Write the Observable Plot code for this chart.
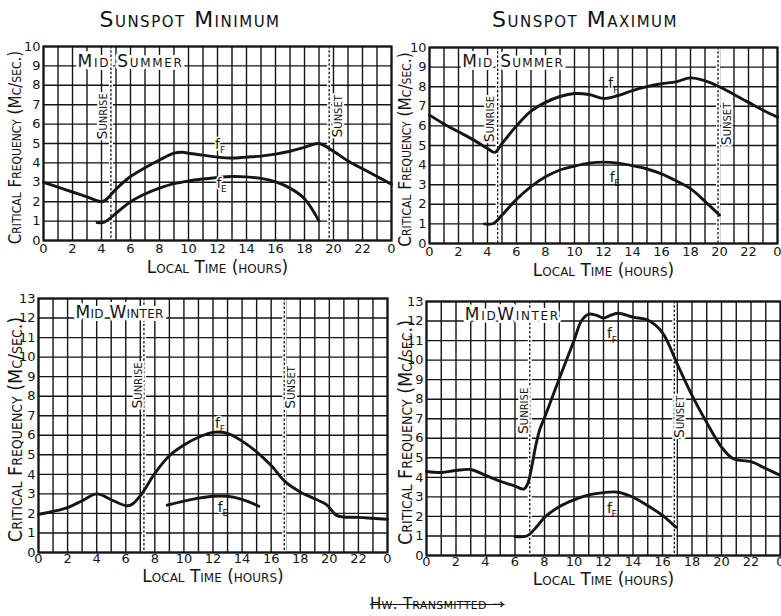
<!DOCTYPE html>
<html><head><meta charset="utf-8">
<script src="https://cdn.jsdelivr.net/npm/d3@7"></script>
<script src="https://cdn.jsdelivr.net/npm/@observablehq/plot@0.6"></script>
<style>
body{margin:0;background:#fff}
#wrap{position:relative;width:781px;height:616px;overflow:hidden;background:#fff;font-family:"DejaVu Sans",sans-serif;color:#111}
.panel{position:absolute}
.panel svg{overflow:visible;background:transparent}
.title{position:absolute;top:7px;font-size:22px;font-variant:small-caps;letter-spacing:1.5px;white-space:nowrap;transform:translateX(-50%)}
.caption{position:absolute;left:370px;top:595px;font-size:15px;font-variant:small-caps;white-space:nowrap;text-decoration:line-through;letter-spacing:0.3px}
</style>
</head><body>
<div id="wrap"></div>
<script>
// ---- data ----
const hourTicks = [0,2,4,6,8,10,12,14,16,18,20,22,24];
const hourTickLabels = ["0","2","4","6","8","10","12","14","16","18","20","22","0"];
const panelTitles = ["Sunspot Minimum","Sunspot Maximum"];
const seasonLabels = ["Mid Summer","Mid Summer","Mid Winter","MidWinter"];
const xTitle = "Local Time (hours)";
const yTitle = "Critical Frequency (Mc/sec.)";
const captionText = "Hw. Transmitted";

// [hour, Mc/sec]
const minSummerF = [[0,3.0],[1,2.75],[2,2.5],[3,2.25],[4,2.0],[4.3,2.1],[5,2.65],[6,3.3],[7,3.75],[8,4.15],[9,4.5],[9.6,4.55],[10,4.5],[11,4.4],[12,4.3],[13,4.25],[14,4.3],[15,4.35],[16,4.45],[17,4.6],[18,4.8],[19,5.0],[20,4.6],[21,4.1],[22,3.7],[23,3.3],[24,2.9]];
const minSummerE = [[3.7,0.92],[4.2,0.95],[5,1.4],[6,2.0],[7,2.4],[8,2.7],[9,2.93],[10,3.07],[11,3.17],[12,3.25],[13,3.3],[14,3.28],[15,3.2],[16,3.02],[17,2.7],[18,2.15],[19,1.0]];
const maxSummerF = [[0,6.55],[1,6.1],[2,5.7],[3,5.3],[4,4.85],[4.5,4.65],[5,5.1],[6,6.0],[7,6.75],[8,7.2],[9,7.5],[10,7.65],[11,7.6],[12,7.4],[13,7.55],[14,7.8],[15,8.0],[16,8.15],[17,8.25],[18,8.45],[19,8.3],[20,8.0],[21,7.6],[22,7.2],[23,6.8],[24,6.45]];
const maxSummerE = [[3.8,1.0],[4.4,1.02],[5,1.45],[6,2.25],[7,2.9],[8,3.4],[9,3.75],[10,3.95],[11,4.1],[12,4.15],[13,4.1],[14,3.97],[15,3.8],[16,3.55],[17,3.2],[18,2.8],[19,2.15],[20,1.45]];
const minWinterF = [[0,1.95],[1,2.1],[2,2.3],[3,2.65],[4,3.0],[5,2.7],[6,2.4],[6.4,2.45],[7,2.9],[8,4.05],[9,4.95],[10,5.5],[11,5.9],[12,6.15],[13,6.1],[14,5.7],[15,5.15],[16,4.45],[17,3.6],[18,3.1],[19,2.75],[19.8,2.45],[20.5,1.9],[21,1.82],[22,1.8],[23,1.75],[24,1.7]];
const minWinterE = [[8.85,2.42],[10,2.63],[11,2.78],[12,2.88],[13,2.88],[14,2.72],[15.15,2.37]];
const maxWinterF = [[0,4.3],[1,4.25],[2,4.35],[3,4.4],[4,4.1],[5,3.8],[6,3.55],[6.6,3.4],[6.85,3.65],[7.1,4.4],[7.4,5.6],[7.7,6.5],[8,7.05],[9,9.05],[10,11.0],[10.5,12.0],[11,12.35],[11.5,12.3],[12,12.15],[12.5,12.3],[13,12.4],[14,12.2],[15,12.05],[16,11.4],[17,9.8],[18,8.2],[19,6.8],[20,5.55],[20.8,4.95],[22,4.8],[23,4.45],[24,4.1]];
const maxWinterE = [[6.0,0.97],[6.8,1.0],[7.5,1.5],[8,1.95],[9,2.5],[10,2.85],[11,3.1],[12,3.22],[13,3.24],[14,2.98],[15,2.55],[16,2.05],[16.9,1.45]];

const sunriseHours = [4.65, 4.7, 7.25, 7.0];
const sunsetHours = [19.7, 19.9, 16.9, 16.8];
const yMaxes = [10, 10, 13, 13];

// label anchor positions [hour, value]
const seasonLabelPos = [[2.35,9.25],[2.25,9.3],[2.55,12.3],[2.6,12.35]];
const sunriseLabelPos = [[4.05,6.4],[4.15,6.35],[6.8,8.55],[6.6,7.4]];
const sunsetLabelPos = [[20.25,6.4],[20.5,6.1],[17.35,8.45],[17.15,7.1]];
const fFLabelPos = [[12.0,4.95],[12.5,8.15],[12.3,6.6],[12.4,11.35]];
const fELabelPos = [[12.1,2.95],[12.6,3.38],[12.5,2.3],[12.4,2.4]];

// ---- layout (container boxes) ----
const boxes = [
  {left:0, top:0, width:400, height:285, mt:46, mr:9, mb:45, ml:43, xt:32, tp:3, ylen:198, slen:106},
  {left:390, top:0, width:391, height:285, mt:47, mr:4, mb:42, ml:39, xt:32, tp:3, ylen:200, slen:102},
  {left:0, top:285, width:400, height:331, mt:13, mr:13, mb:64, ml:38, xt:29, tp:1, ylen:229, slen:88},
  {left:390, top:285, width:391, height:331, mt:16, mr:1, mb:61, ml:36, xt:29, tp:1, ylen:228, slen:95}
];
const seriesF = [minSummerF, maxSummerF, minWinterF, maxWinterF];
const seriesE = [minSummerE, maxSummerE, minWinterE, maxWinterE];

const wrap = document.getElementById("wrap");
const ink = "#151515";
const font = "DejaVu Sans";
const narrowFont = "'DejaVu Sans Condensed','Liberation Sans Narrow','DejaVu Sans'";

function pt(p){return {x:p[0], y:p[1]};}

function findText(svg, str){ return [...svg.querySelectorAll("text")].find(e => e.textContent === str); }
function fitSize(svg, str, target){
  const t = findText(svg, str); if (!t) return;
  const len = t.getComputedTextLength();
  const fs = parseFloat(getComputedStyle(t).fontSize);
  if (len > 0) t.style.fontSize = (fs * target / len) + "px";
}
function fitSpacing(svg, str, target){
  const t = findText(svg, str); if (!t) return;
  const len = t.getComputedTextLength();
  if (len > 0) t.style.letterSpacing = ((target - len) / str.length) + "px";
}

boxes.forEach((b, i) => {
  const yMax = yMaxes[i];
  const plot = Plot.plot({
    width: b.width, height: b.height,
    marginTop: b.mt, marginRight: b.mr, marginBottom: b.mb, marginLeft: b.ml,
    style: {fontFamily: font, fontSize: "13px", background: "transparent", color: ink, overflow: "visible"},
    x: {domain: [0, 24], ticks: hourTicks, tickFormat: d => hourTickLabels[hourTicks.indexOf(d)], tickSize: 0, tickPadding: b.tp, label: null},
    y: {domain: [0, yMax], ticks: d3.range(0, yMax + 1), tickSize: 0, tickPadding: 3, label: null},
    marks: [
      Plot.ruleX(d3.range(0, 25), {stroke: ink, strokeWidth: 1.4}),
      Plot.ruleY(d3.range(0, yMax + 1), {stroke: ink, strokeWidth: 1.4}),
      Plot.ruleX([sunriseHours[i], sunsetHours[i]], {stroke: "white", strokeWidth: 4}),
      Plot.ruleX([sunriseHours[i], sunsetHours[i]], {stroke: ink, strokeWidth: 1.3, strokeDasharray: "2.5,1.8"}),
      Plot.frame({stroke: ink, strokeWidth: 2.2}),
      Plot.line(seriesF[i].map(pt), {x: "x", y: "y", curve: "catmull-rom", stroke: ink, strokeWidth: 2.9}),
      Plot.line(seriesE[i].map(pt), {x: "x", y: "y", curve: "catmull-rom", stroke: ink, strokeWidth: 2.9}),
      Plot.text([pt(seasonLabelPos[i])], {x: "x", y: "y", text: () => seasonLabels[i], textAnchor: "start", fontSize: 17, fontVariant: "small-caps", fill: ink, stroke: "white", strokeWidth: 6}),
      Plot.text([pt(sunriseLabelPos[i])], {x: "x", y: "y", text: () => "Sunrise", rotate: -90, fontSize: 14, fontVariant: "small-caps", fill: ink, stroke: "white", strokeWidth: 4}),
      Plot.text([pt(sunsetLabelPos[i])], {x: "x", y: "y", text: () => "Sunset", rotate: -90, fontSize: 14, fontVariant: "small-caps", fill: ink, stroke: "white", strokeWidth: 4}),
      Plot.text([pt(fFLabelPos[i])], {x: "x", y: "y", text: () => "f", fontSize: 14, fill: ink, stroke: "white", strokeWidth: 3}),
      Plot.text([pt(fFLabelPos[i])], {x: "x", y: "y", text: () => "F", dx: 5, dy: 6, fontSize: 9, fill: ink}),
      Plot.text([pt(fELabelPos[i])], {x: "x", y: "y", text: () => "f", fontSize: 14, fill: ink, stroke: "white", strokeWidth: 3}),
      Plot.text([pt(fELabelPos[i])], {x: "x", y: "y", text: () => "E", dx: 5, dy: 6, fontSize: 9, fill: ink}),
      Plot.text([0], {frameAnchor: "bottom", dy: b.xt, text: () => xTitle, fontSize: 17, fontVariant: "small-caps", fill: ink}),
      Plot.text([0], {frameAnchor: "left", textAnchor: "middle", dx: -b.ml + 15, dy: 4, rotate: -90, text: () => yTitle, fontSize: 15, fontFamily: narrowFont, fontVariant: "small-caps", fill: ink})
    ]
  });
  const div = document.createElement("div");
  div.className = "panel";
  div.style.left = b.left + "px";
  div.style.top = b.top + "px";
  div.appendChild(plot);
  wrap.appendChild(div);
  fitSize(plot, yTitle, b.ylen);
  fitSpacing(plot, seasonLabels[i], b.slen);
});

[[panelTitles[0], 190], [panelTitles[1], 585]].forEach(([t, cx]) => {
  const d = document.createElement("div");
  d.className = "title";
  d.style.left = cx + "px";
  d.textContent = t;
  wrap.appendChild(d);
});
const cap = document.createElement("div");
cap.className = "caption";
cap.textContent = captionText + " \u2192";
wrap.appendChild(cap);
</script>
</body></html>
